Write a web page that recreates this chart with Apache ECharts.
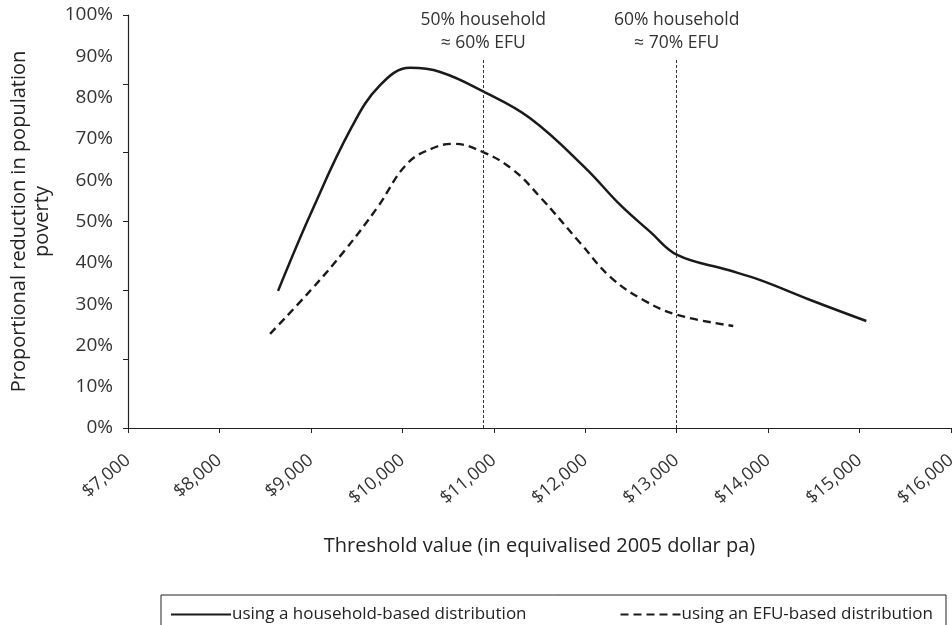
<!DOCTYPE html>
<html>
<head>
<meta charset="utf-8">
<script src="https://cdn.jsdelivr.net/npm/echarts@6/dist/echarts.min.js"></script>
<style>html,body{margin:0;padding:0;background:#fff}#c{width:952px;height:625px}</style>
</head>
<body>
<div id="c"></div>
<script>
// Household-based distribution: [threshold $, % reduction]
var householdX = [8641, 9000, 9440, 9757, 10085, 10414, 10884, 11398, 12000, 12383, 12711, 13006, 13553, 13915, 14462, 15074];
var householdY = [33.2, 52, 72.6, 83, 87.2, 86.2, 81.5, 75, 63, 54, 47.5, 41.9, 38.3, 35.8, 31, 25.9];
// EFU-based distribution
var efuX = [8554, 9000, 9374, 9724, 10052, 10337, 10556, 10884, 11212, 11508, 11945, 12273, 12635, 13006, 13619];
var efuY = [22.8, 33.4, 43.1, 53.3, 64.0, 67.8, 68.8, 66.8, 62.5, 55.9, 44.8, 36.6, 31, 27.4, 24.7];
var xTickValues = [7000, 8000, 9000, 10000, 11000, 12000, 13000, 14000, 15000, 16000];
var xTickLabels = ['$7,000', '$8,000', '$9,000', '$10,000', '$11,000', '$12,000', '$13,000', '$14,000', '$15,000', '$16,000'];
var yLabelValues = [0, 10, 20, 30, 40, 50, 60, 70, 80, 90, 100];
var yLabelTexts = ['0%', '10%', '20%', '30%', '40%', '50%', '60%', '70%', '80%', '90%', '100%'];
var yTickValues = [0, 100/6, 200/6, 50, 400/6, 500/6, 100];
var refLineX = [10885, 13000];
var refLineTop = 89.5;
var refLabels = ['50% household\n\u2248 60% EFU', '60% household\n\u2248 70% EFU'];
var seriesNames = ['using a household-based distribution', 'using an EFU-based distribution'];

function pairs(xs, ys) { return xs.map(function (x, i) { return [x, ys[i]]; }); }

var FONT = '"Open Sans", "Noto Sans", sans-serif';
var chart = echarts.init(document.getElementById('c'), null, {renderer: 'canvas'});
var option = {
  animation: false,
  backgroundColor: '#fff',
  grid: {left: 128, right: 1, top: 15, bottom: 197, outerBoundsMode: 'none', containLabel: false},
  xAxis: {
    type: 'value', min: 7000, max: 16000, interval: 1000,
    name: 'Threshold value (in equivalised 2005 dollar pa)',
    nameLocation: 'middle', nameGap: 108,
    nameTextStyle: {fontFamily: FONT, fontSize: 20, color: '#222'},
    axisLine: {show: true, lineStyle: {color: '#222', width: 1.2}},
    axisTick: {show: true, length: 5, lineStyle: {color: '#222'}},
    splitLine: {show: false},
    axisLabel: {
      rotate: 40, margin: 30, fontFamily: FONT, fontSize: 18, color: '#333',
      formatter: function (v) { var i = xTickValues.indexOf(v); return i >= 0 ? xTickLabels[i] : ''; }
    }
  },
  yAxis: {
    type: 'value', min: 0, max: 100,
    name: 'Proportional reduction in population\npoverty',
    nameLocation: 'middle', nameGap: 74, nameRotate: 90,
    nameTextStyle: {fontFamily: FONT, fontSize: 20, color: '#222', lineHeight: 23},
    axisLine: {show: true, lineStyle: {color: '#222', width: 1.2}},
    axisTick: {show: true, length: 5, inside: false, customValues: yTickValues, lineStyle: {color: '#222'}},
    splitLine: {show: false},
    axisLabel: {
      customValues: yLabelValues, margin: 15, fontFamily: FONT, fontSize: 19, color: '#333',
      formatter: function (v) { var i = yLabelValues.indexOf(Math.round(v)); return i >= 0 ? yLabelTexts[i] : ''; }
    }
  },
  legend: [
    {data: [seriesNames[0]], left: 165, top: 601, itemWidth: 60, itemHeight: 10, itemGap: 4,
     itemStyle: {opacity: 0},
     textStyle: {fontFamily: FONT, fontSize: 17, color: '#222', padding: [0,0,0,-4]}},
    {data: [seriesNames[1]], right: 14, top: 601, itemWidth: 60, itemHeight: 10, itemGap: 4,
     itemStyle: {opacity: 0},
     textStyle: {fontFamily: FONT, fontSize: 17, color: '#222', padding: [0,0,0,-4]}}
  ],
  graphic: [{
    type: 'rect', silent: true,
    shape: {x: 161, y: 595, width: 785, height: 60},
    style: {fill: 'none', stroke: '#222', lineWidth: 1}
  }],
  series: [
    {
      name: seriesNames[0], type: 'line', smooth: 0.4, symbol: 'none',
      data: pairs(householdX, householdY),
      lineStyle: {color: '#1a1a1a', width: 2.5, type: 'solid'},
      itemStyle: {color: '#1a1a1a'},
      markLine: {
        silent: true, symbol: 'none',
        lineStyle: {color: '#333', width: 1, type: [3, 2]},
        label: {show: true, position: 'end', distance: 4, fontFamily: FONT, fontSize: 17.5, color: '#333', lineHeight: 23, align: 'center'},
        data: refLineX.map(function (x, i) {
          return [{coord: [x, 0], label: {formatter: refLabels[i]}}, {coord: [x, refLineTop]}];
        })
      }
    },
    {
      name: seriesNames[1], type: 'line', smooth: 0.4, symbol: 'none',
      data: pairs(efuX, efuY),
      lineStyle: {color: '#1a1a1a', width: 2.4, type: [8, 5]},
      itemStyle: {color: '#1a1a1a'}
    }
  ]
};
chart.setOption(option);
</script>
</body>
</html>
